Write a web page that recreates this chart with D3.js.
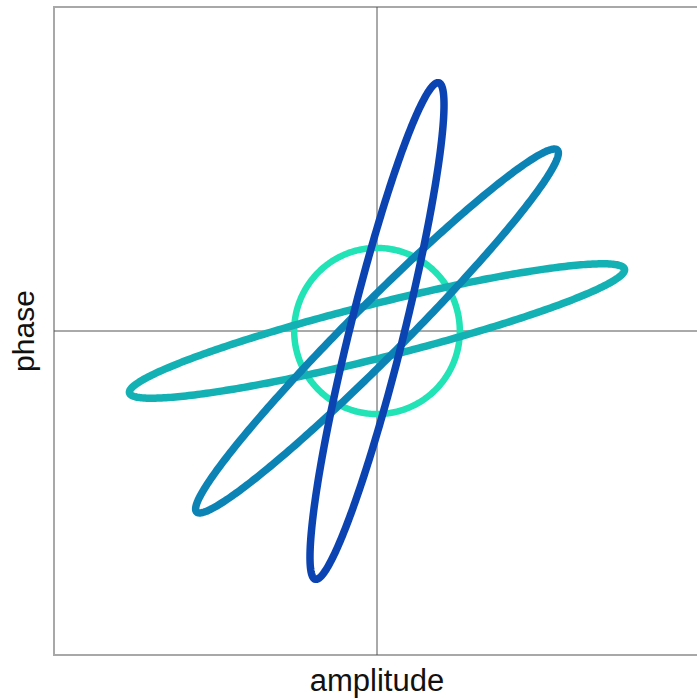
<!DOCTYPE html>
<html>
<head>
<meta charset="utf-8">
<script src="https://cdn.jsdelivr.net/npm/d3@7"></script>
<style>
  html, body { margin: 0; padding: 0; background: #fff; }
  svg { display: block; }
</style>
</head>
<body>
<svg id="chart" width="697" height="699"></svg>
<script>
// phase-space states: one coherent (circle), three squeezed at different angles
const NAMES = ['coherent', 'squeezed 14', 'squeezed 45', 'squeezed 76'];
const SEMI_MAJOR = [1, 3.08, 3.08, 3.08];
const SEMI_MINOR = [1, 0.325, 0.325, 0.325];
const ANGLES = [0, 14, 45, 76];          // degrees, counter-clockwise
const COLORS = ['#22e3b5', '#13b1b3', '#0c83b5', '#0b44b2'];
const WIDTHS = [6.5, 7.5, 7.5, 7.5];

const X_LABEL = 'amplitude';
const Y_LABEL = 'phase';

const svg = d3.select('#chart');

const x = d3.scaleLinear().domain([-3.9, 3.9]).range([54, 700]);
const y = d3.scaleLinear().domain([-3.9, 3.9]).range([655, 7]);

// frame
svg.append('rect')
    .attr('x', x(-3.9))
    .attr('y', y(3.9))
    .attr('width', x(3.9) - x(-3.9))
    .attr('height', y(-3.9) - y(3.9))
    .attr('fill', 'none')
    .attr('stroke', '#a8a8a8')
    .attr('stroke-width', 2);

// zero axes
svg.append('line')
    .attr('x1', x(0)).attr('x2', x(0))
    .attr('y1', y(3.9)).attr('y2', y(-3.9))
    .attr('stroke', '#555').attr('stroke-width', 1);
svg.append('line')
    .attr('x1', x(-3.9)).attr('x2', x(3.9))
    .attr('y1', y(0)).attr('y2', y(0))
    .attr('stroke', '#555').attr('stroke-width', 1);

const line = d3.line()
    .x(d => x(d[0]))
    .y(d => y(d[1]))
    .curve(d3.curveLinearClosed);

const T = d3.range(0, 2 * Math.PI, Math.PI / 180);

NAMES.forEach((name, i) => {
    const a = SEMI_MAJOR[i], b = SEMI_MINOR[i];
    const th = ANGLES[i] * Math.PI / 180;
    const pts = T.map(t => {
        const u = a * Math.cos(t), v = b * Math.sin(t);
        return [u * Math.cos(th) - v * Math.sin(th), u * Math.sin(th) + v * Math.cos(th)];
    });
    svg.append('path')
        .attr('class', 'state')
        .attr('d', line(pts))
        .attr('fill', 'none')
        .attr('stroke', COLORS[i])
        .attr('stroke-width', WIDTHS[i])
        .attr('stroke-linejoin', 'round');
});

// labels
svg.append('text')
    .attr('x', x(0))
    .attr('y', 691)
    .attr('text-anchor', 'middle')
    .attr('font-family', 'Liberation Sans, Arial, sans-serif')
    .attr('font-size', 31)
    .attr('fill', '#111')
    .text(X_LABEL);

svg.append('text')
    .attr('transform', `translate(34,${y(0)}) rotate(-90)`)
    .attr('text-anchor', 'middle')
    .attr('font-family', 'Liberation Sans, Arial, sans-serif')
    .attr('font-size', 30)
    .attr('fill', '#111')
    .text(Y_LABEL);
</script>
</body>
</html>
